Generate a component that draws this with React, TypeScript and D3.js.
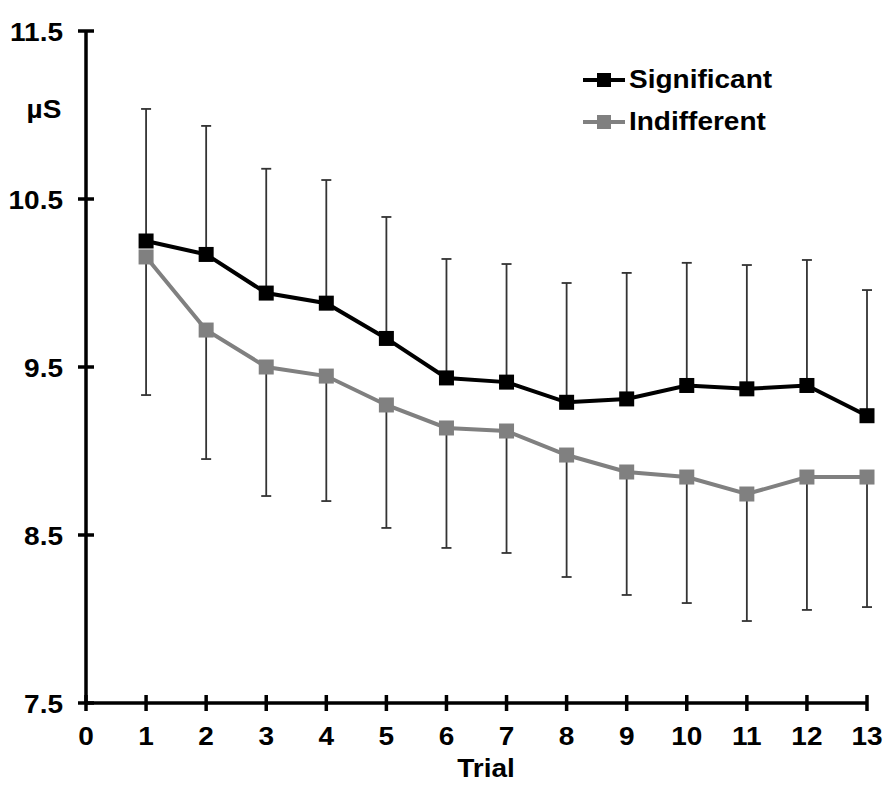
import React from "react";
import * as d3 from "d3";

const trials = [1, 2, 3, 4, 5, 6, 7, 8, 9, 10, 11, 12, 13];
const significantMean = [10.25, 10.17, 9.94, 9.88, 9.67, 9.435, 9.41, 9.29, 9.31, 9.39, 9.37, 9.39, 9.21];
const significantUpper = [11.036, 10.935, 10.68, 10.613, 10.393, 10.143, 10.113, 10.0, 10.06, 10.12, 10.107, 10.137, 9.958];
const indifferentMean = [10.155, 9.72, 9.5, 9.446, 9.274, 9.137, 9.119, 8.976, 8.875, 8.845, 8.744, 8.845, 8.845];
const indifferentLower = [9.333, 8.952, 8.732, 8.702, 8.542, 8.423, 8.393, 8.25, 8.143, 8.095, 7.988, 8.054, 8.071];
const xTicks = [0, 1, 2, 3, 4, 5, 6, 7, 8, 9, 10, 11, 12, 13];
const yTicks = [7.5, 8.5, 9.5, 10.5, 11.5];
const seriesNames = ["Significant", "Indifferent"];

const W = 892;
const H = 788;
const FONT = "'Liberation Sans', Arial, sans-serif";

function T({ x, y, anchor = "start", size = 25, sx = 1.12, children }: any) {
  return (
    <g transform={`translate(${x},${y}) scale(${sx},1)`}>
      <text x={0} y={0} textAnchor={anchor} fontFamily={FONT} fontWeight="bold" fontSize={size} fill="#000">
        {children}
      </text>
    </g>
  );
}

export default function App() {
  const x = d3.scaleLinear().domain([0, 13]).range([86, 867]);
  const y = d3.scaleLinear().domain([7.5, 11.5]).range([703, 31]);
  const line = d3
    .line<number>()
    .x((_, i) => x(trials[i]))
    .y((d) => y(d));
  const ms = 15;
  const cap = 5;
  const series = [
    { name: seriesNames[0], mean: significantMean, err: significantUpper, color: "#000000" },
    { name: seriesNames[1], mean: indifferentMean, err: indifferentLower, color: "#808080" },
  ];

  return (
    <div style={{ position: "absolute", left: 0, top: 0 }}>
      <svg width={W} height={H} style={{ display: "block", background: "#fff" }}>
        {/* error bars */}
        {series.map((s) =>
          trials.map((t, i) => (
            <g key={s.name + t} stroke="#333" strokeWidth={1.8}>
              <line x1={x(t)} x2={x(t)} y1={y(s.mean[i])} y2={y(s.err[i])} />
              <line x1={x(t) - cap} x2={x(t) + cap} y1={y(s.err[i])} y2={y(s.err[i])} />
            </g>
          ))
        )}
        {/* lines and markers: grey first, black on top */}
        {[series[1], series[0]].map((s) => (
          <g key={s.name}>
            <path d={line(s.mean) || ""} fill="none" stroke={s.color} strokeWidth={4} />
            {trials.map((t, i) => (
              <rect
                key={t}
                x={x(t) - ms / 2}
                y={y(s.mean[i]) - ms / 2}
                width={ms}
                height={ms}
                fill={s.color}
              />
            ))}
          </g>
        ))}
        {/* axes */}
        <line x1={x(0)} x2={x(0)} y1={y(11.5)} y2={y(7.5)} stroke="#000" strokeWidth={3.5} />
        <line x1={x(0)} x2={x(13)} y1={y(7.5)} y2={y(7.5)} stroke="#000" strokeWidth={3.5} />
        {yTicks.map((v) => (
          <g key={v}>
            <line x1={x(0) - 8} x2={x(0) + 8} y1={y(v)} y2={y(v)} stroke="#000" strokeWidth={3.5} />
            <T x={63} y={y(v) + 9.5} anchor="end">
              {v.toFixed(1)}
            </T>
          </g>
        ))}
        {xTicks.map((v) => (
          <g key={v}>
            <line x1={x(v)} x2={x(v)} y1={y(7.5) - 8} y2={y(7.5) + 8} stroke="#000" strokeWidth={3.5} />
            <T x={x(v)} y={745} anchor="middle">
              {v}
            </T>
          </g>
        ))}
        <T x={486} y={777} anchor="middle">
          Trial
        </T>
        <T x={44} y={118} anchor="middle">
          µS
        </T>
        {/* legend */}
        {series.map((s, i) => {
          const ly = 80 + i * 42;
          return (
            <g key={s.name}>
              <line x1={583} x2={625} y1={ly} y2={ly} stroke={s.color} strokeWidth={4} />
              <rect x={604 - 7} y={ly - 7} width={14} height={14} fill={s.color} />
              <T x={629} y={ly + 8}>
                {s.name}
              </T>
            </g>
          );
        })}
      </svg>
    </div>
  );
}
